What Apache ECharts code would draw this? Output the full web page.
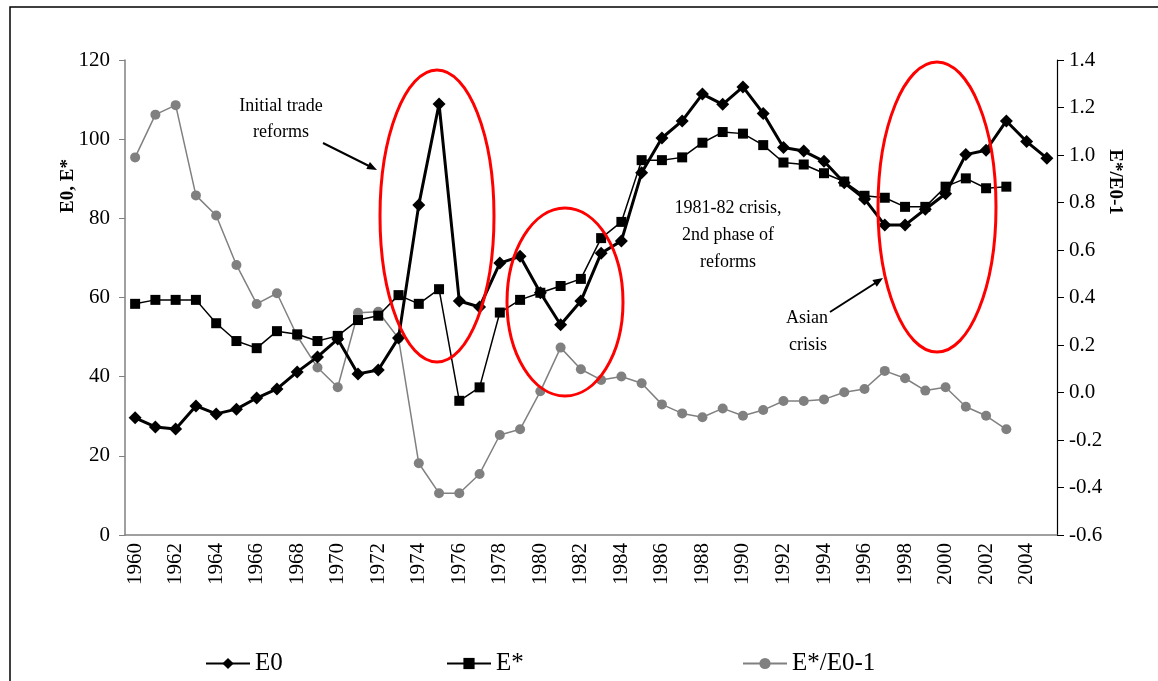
<!DOCTYPE html>
<html>
<head>
<meta charset="utf-8">
<title>E0, E*</title>
<script src="https://cdn.jsdelivr.net/npm/echarts@6/dist/echarts.min.js"></script>
<style>
    html, body { margin: 0; padding: 0; background: #fff; }
    #chart { width: 1158px; height: 681px; }
</style>
</head>
<body>
<div id="chart"></div>
<script>
    // years 1960 - 2005
    var years = [];
    for (var y = 1960; y <= 2005; y++) years.push(String(y));

    var e0 = [29.6, 27.3, 26.8, 32.6, 30.6, 31.8, 34.6, 36.9, 41.2, 45.0,
              49.5, 40.7, 41.7, 49.8, 83.4, 108.9, 59.1, 57.6, 68.7, 70.4,
              61.2, 53.1, 59.1, 71.2, 74.3, 91.5, 100.3, 104.6, 111.4, 108.8,
              113.2, 106.5, 97.9, 97.0, 94.4, 89.0, 84.9, 78.3, 78.3, 82.3,
              86.2, 96.1, 97.2, 104.6, 99.4, 95.2];
    var eStar = [58.4, 59.4, 59.4, 59.4, 53.5, 49.0, 47.2, 51.5, 50.7, 49.0,
                 50.3, 54.3, 55.4, 60.6, 58.4, 62.1, 33.9, 37.3, 56.2, 59.4,
                 61.2, 62.9, 64.7, 75.0, 79.1, 94.7, 94.7, 95.4, 99.1, 101.8,
                 101.4, 98.5, 94.1, 93.6, 91.4, 89.3, 85.7, 85.2, 82.9, 82.9,
                 88.0, 90.1, 87.6, 88.0, null, null];
    var ratio = [0.99, 1.17, 1.21, 0.83, 0.745, 0.537, 0.373, 0.418, 0.238, 0.105,
                 0.022, 0.336, 0.34, 0.228, -0.298, -0.424, -0.424, -0.343, -0.179, -0.155,
                 0.005, 0.189, 0.098, 0.053, 0.067, 0.039, -0.05, -0.088, -0.104, -0.067,
                 -0.098, -0.074, -0.036, -0.036, -0.029, 0.001, 0.015, 0.091, 0.06, 0.008,
                 0.022, -0.06, -0.098, -0.155, null, null];

    var serif = '"Liberation Serif", "Times New Roman", serif';

    var chart = echarts.init(document.getElementById('chart'));

    function legendFor(name, left) {
        return {
            data: [name],
            left: left,
            top: 646,
            itemWidth: 44,
            itemHeight: 14,
            itemGap: 6,
            textStyle: { fontFamily: serif, fontSize: 25, color: '#000' }
        };
    }

    var option = {
        animation: false,
        backgroundColor: '#fff',
        grid: { left: 125, right: 101, top: 60, bottom: 146 },
        legend: [
            legendFor('E0', 200),
            legendFor('E*', 441),
            legendFor('E*/E0-1', 737)
        ],
        xAxis: {
            type: 'category',
            data: years,
            boundaryGap: true,
            axisLine: { lineStyle: { color: '#808080', width: 1.5 } },
            axisTick: { interval: 0, length: 6, lineStyle: { color: '#000' } },
            axisLabel: {
                interval: 1,
                rotate: 90,
                margin: 8,
                fontFamily: serif,
                fontSize: 21,
                color: '#000'
            },
            splitLine: { show: false }
        },
        yAxis: [
            {
                type: 'value',
                min: 0,
                max: 120,
                interval: 20,
                axisLine: { show: true, lineStyle: { color: '#808080', width: 1.5 } },
                axisTick: { show: true, length: 6, lineStyle: { color: '#808080' } },
                axisLabel: { fontFamily: serif, fontSize: 21, color: '#000', margin: 15 },
                splitLine: { show: false }
            },
            {
                type: 'value',
                min: -0.6,
                max: 1.4,
                interval: 0.2,
                position: 'right',
                axisLine: { show: true, lineStyle: { color: '#000', width: 1.2 } },
                axisTick: { show: true, length: 7, lineStyle: { color: '#000' } },
                axisLabel: {
                    fontFamily: serif, fontSize: 21, color: '#000', margin: 12,
                    formatter: function (v) { return v.toFixed(1); }
                },
                splitLine: { show: false }
            }
        ],
        series: [
            {
                name: 'E0',
                type: 'line',
                yAxisIndex: 0,
                data: e0,
                symbol: 'diamond',
                symbolSize: 13,
                lineStyle: { color: '#000', width: 3 },
                itemStyle: { color: '#000' },
                z: 4
            },
            {
                name: 'E*',
                type: 'line',
                yAxisIndex: 0,
                data: eStar,
                symbol: 'rect',
                symbolSize: 10,
                lineStyle: { color: '#000', width: 1.5 },
                itemStyle: { color: '#000' },
                z: 3
            },
            {
                name: 'E*/E0-1',
                type: 'line',
                yAxisIndex: 1,
                data: ratio,
                symbol: 'circle',
                symbolSize: 10,
                lineStyle: { color: '#808080', width: 1.5 },
                itemStyle: { color: '#808080' },
                z: 2
            }
        ],
        graphic: [
            // outer frame
            { type: 'rect', shape: { x: 10, y: 7, width: 1170, height: 700 },
              style: { fill: 'none', stroke: '#000', lineWidth: 1.5 }, silent: true },
            // axis titles
            { type: 'text', x: 68, y: 186, rotation: Math.PI / 2,
              style: { text: 'E0, E*', font: 'bold 19px ' + serif, fill: '#000', align: 'center', verticalAlign: 'middle' } },
            { type: 'text', x: 1115, y: 182, rotation: -Math.PI / 2,
              style: { text: 'E*/E0-1', font: 'bold 19px ' + serif, fill: '#000', align: 'center', verticalAlign: 'middle' } },
            // red ellipses
            { type: 'ellipse', z: 50, shape: { cx: 437, cy: 216, rx: 57, ry: 146 },
              style: { fill: 'none', stroke: '#ff0000', lineWidth: 3 } },
            { type: 'ellipse', z: 50, shape: { cx: 565, cy: 302, rx: 58, ry: 94 },
              style: { fill: 'none', stroke: '#ff0000', lineWidth: 3 } },
            { type: 'ellipse', z: 50, shape: { cx: 937, cy: 207, rx: 59, ry: 145 },
              style: { fill: 'none', stroke: '#ff0000', lineWidth: 3 } },
            // annotations
            { type: 'text', x: 281, y: 106,
              style: { text: 'Initial trade', font: '18px ' + serif, fill: '#000', align: 'center', verticalAlign: 'middle' } },
            { type: 'text', x: 281, y: 132,
              style: { text: 'reforms', font: '18px ' + serif, fill: '#000', align: 'center', verticalAlign: 'middle' } },
            { type: 'text', x: 728, y: 208,
              style: { text: '1981-82 crisis,', font: '18px ' + serif, fill: '#000', align: 'center', verticalAlign: 'middle' } },
            { type: 'text', x: 728, y: 235,
              style: { text: '2nd phase of', font: '18px ' + serif, fill: '#000', align: 'center', verticalAlign: 'middle' } },
            { type: 'text', x: 728, y: 262,
              style: { text: 'reforms', font: '18px ' + serif, fill: '#000', align: 'center', verticalAlign: 'middle' } },
            { type: 'text', x: 807, y: 318,
              style: { text: 'Asian', font: '18px ' + serif, fill: '#000', align: 'center', verticalAlign: 'middle' } },
            { type: 'text', x: 808, y: 345,
              style: { text: 'crisis', font: '18px ' + serif, fill: '#000', align: 'center', verticalAlign: 'middle' } },
            // arrows
            { type: 'line', shape: { x1: 323, y1: 143, x2: 370, y2: 166.5 },
              style: { stroke: '#000', lineWidth: 2 } },
            { type: 'polygon', shape: { points: [[377, 170], [366.3, 169.1], [369.9, 161.9]] },
              style: { fill: '#000' } },
            { type: 'line', shape: { x1: 830, y1: 312, x2: 877, y2: 282 },
              style: { stroke: '#000', lineWidth: 2 } },
            { type: 'polygon', shape: { points: [[883, 278], [876.8, 286.8], [872.4, 280.0]] },
              style: { fill: '#000' } }
        ]
    };

    chart.setOption(option);
    window.addEventListener('resize', function () { chart.resize(); });
</script>
</body>
</html>
